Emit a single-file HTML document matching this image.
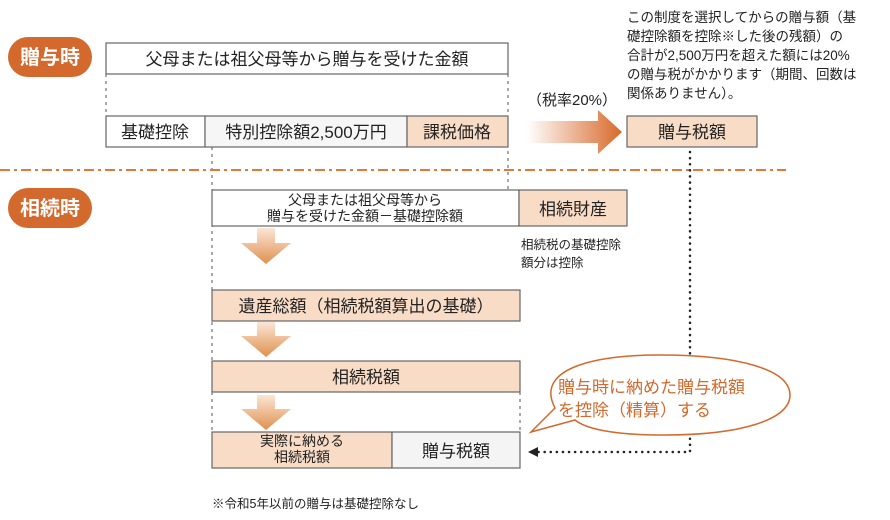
<!DOCTYPE html>
<html><head><meta charset="utf-8"><style>
body{margin:0;background:#fff;}
svg{display:block;font-family:"Liberation Sans","Noto Sans CJK JP",sans-serif;}
</style></head><body>
<svg width="890" height="520" viewBox="0 0 890 520" xmlns="http://www.w3.org/2000/svg">
<defs>
<linearGradient id="ha" x1="0" x2="1" y1="0" y2="0"><stop offset="0" stop-color="#fff"/><stop offset="1" stop-color="#d8692a"/></linearGradient>
<linearGradient id="va" x1="0" x2="0" y1="0" y2="1"><stop offset="0" stop-color="#fbe6d6"/><stop offset="1" stop-color="#e0904f"/></linearGradient>
</defs>
<g fill="none" stroke="#555" stroke-width="1" stroke-dasharray="3,4">
<line x1="106" y1="74" x2="106" y2="116"/>
<line x1="508" y1="74" x2="508" y2="190"/>
<line x1="212" y1="147" x2="212" y2="432"/>
<line x1="520" y1="392" x2="520" y2="432"/>
</g>
<line x1="0" y1="170" x2="786" y2="170" stroke="#e07a3a" stroke-width="2" stroke-dasharray="10,4,3,4"/>
<rect x="8" y="37" width="84" height="40" rx="20" fill="#d3692c"/>
<text x="50" y="64" font-size="20" font-weight="bold" fill="#fff" text-anchor="middle">贈与時</text>
<rect x="8" y="188" width="84" height="40" rx="20" fill="#d3692c"/>
<text x="50" y="215" font-size="20" font-weight="bold" fill="#fff" text-anchor="middle">相続時</text>
<g stroke="#666" stroke-width="1.2">
<rect x="106" y="43" width="402" height="31" fill="#fff"/>
<rect x="106" y="116" width="99" height="31" fill="#fff"/>
<rect x="205" y="116" width="202" height="31" fill="#f6f6f6"/>
<rect x="407" y="116" width="101" height="31" fill="#f8dcc6"/>
<rect x="627" y="116" width="130" height="31" fill="#f8dcc6"/>
<rect x="212" y="190" width="307" height="36" fill="#fff"/>
<rect x="519" y="190" width="108" height="36" fill="#f8dcc6"/>
<rect x="212" y="290" width="308" height="31" fill="#f8dcc6"/>
<rect x="212" y="361" width="308" height="31" fill="#f8dcc6"/>
<rect x="212" y="432" width="180" height="36" fill="#f8dcc6"/>
<rect x="392" y="432" width="128" height="36" fill="#f4f4f4"/>
</g>
<g font-size="17" fill="#222" text-anchor="middle">
<text x="307" y="65">父母または祖父母等から贈与を受けた金額</text>
<text x="155" y="138">基礎控除</text>
<text x="306" y="138">特別控除額2,500万円</text>
<text x="457" y="138">課税価格</text>
<text x="692" y="138">贈与税額</text>
<text x="573" y="215">相続財産</text>
<text x="366" y="312">遺産総額（相続税額算出の基礎）</text>
<text x="366" y="383">相続税額</text>
<text x="456" y="457">贈与税額</text>
</g>
<g font-size="14" fill="#222" text-anchor="middle">
<text x="365" y="205">父母または祖父母等から</text>
<text x="365" y="221">贈与を受けた金額－基礎控除額</text>
<text x="302" y="446">実際に納める</text>
<text x="302" y="462">相続税額</text>
</g>
<text x="527" y="105" font-size="15" fill="#222">（税率20%）</text>
<g font-size="13.5" fill="#222">
<text x="627" y="22">この制度を選択してからの贈与額（基</text>
<text x="627" y="41">礎控除額を控除※した後の残額）の</text>
<text x="627" y="60">合計が2,500万円を超えた額には20%</text>
<text x="627" y="79">の贈与税がかかります（期間、回数は</text>
<text x="627" y="98">関係ありません）。</text>
</g>
<g font-size="12.5" fill="#222">
<text x="521" y="249">相続税の基礎控除</text>
<text x="521" y="267">額分は控除</text>
<text x="212" y="508">※令和5年以前の贈与は基礎控除なし</text>
</g>
<path d="M527,121 H598 V110 L622,132 L598,154 V143 H527 Z" fill="url(#ha)"/>
<g fill="url(#va)">
<path d="M257,228 H275 V243 H291 L266,264 L241,243 H257 Z"/>
<path d="M257,322 H275 V336 H291 L266,357 L241,336 H257 Z"/>
<path d="M257,395 H275 V409 H291 L266,430 L241,409 H257 Z"/>
</g>
<path d="M690,152 V452 H536" fill="none" stroke="#222" stroke-width="2.5" stroke-dasharray="0.1,6" stroke-linecap="round"/>
<path d="M528,452 L538,447 L538,457 Z" fill="#222"/>
<path d="M555,408 C535,370 590,355 660,355 C740,355 790,370 790,395 C790,420 740,435 665,435 C610,435 585,428 575,420 L531,432 Z" fill="#fff" stroke="#d3692c" stroke-width="1.5"/>
<g font-size="17" fill="#d3692c">
<text x="558" y="393">贈与時に納めた贈与税額</text>
<text x="558" y="416">を控除（精算）する</text>
</g>
</svg>
</body></html>
